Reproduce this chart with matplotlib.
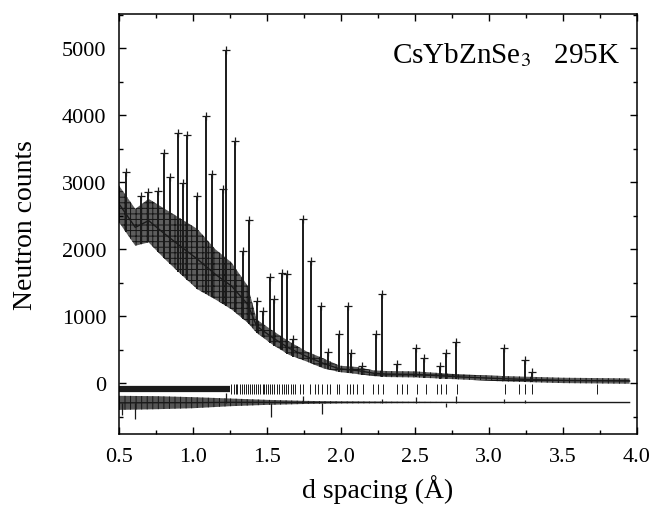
import numpy as np
import matplotlib.pyplot as plt
from matplotlib.ticker import MultipleLocator

plt.rcParams['font.family'] = ['Liberation Serif', 'DejaVu Serif']
plt.rcParams['mathtext.fontset'] = 'stix'
plt.rcParams['hatch.linewidth'] = 0.7

bg_d = [0.50, 0.61, 0.70, 0.81, 0.92, 1.03, 1.15, 1.26, 1.37, 1.43, 1.54, 1.65,
        1.77, 1.88, 1.99, 2.11, 2.22, 2.31, 2.50, 2.80, 3.10, 3.50, 3.95]
bg_low = [2400, 2050, 2100, 1850, 1620, 1400, 1250, 1100, 900, 750, 570, 420,
          320, 220, 165, 135, 105, 90, 85, 55, 25, 0, -10]
bg_high = [2950, 2600, 2750, 2600, 2450, 2300, 2000, 1800, 1450, 950, 780, 620,
           470, 370, 260, 240, 190, 180, 175, 130, 105, 80, 70]

# Bragg peaks: position (Angstrom) and top (counts)
peak_d = [0.547, 0.649, 0.698, 0.766, 0.804, 0.845, 0.900, 0.934, 0.957, 1.030,
          1.086, 1.126, 1.205, 1.222, 1.284, 1.336, 1.378, 1.430, 1.470, 1.520,
          1.550, 1.600, 1.637, 1.678, 1.741, 1.800, 1.865, 1.910, 1.986, 2.045,
          2.070, 2.140, 2.234, 2.279, 2.376, 2.510, 2.563, 2.669, 2.707, 2.780,
          3.100, 3.240, 3.290]
peak_top = [3150, 2800, 2850, 2870, 3440, 3070, 3740, 2990, 3700, 2800,
            3990, 3120, 2900, 4975, 3620, 1975, 2430, 1230, 1080, 1580,
            1250, 1650, 1630, 660, 2450, 1830, 1150, 460, 730, 1150,
            450, 260, 730, 1330, 280, 517, 368, 250, 447, 617,
            517, 348, 170]

# reflection markers
refl_band = [0.50, 1.25]
refl_d = [1.260, 1.275, 1.290, 1.300, 1.315, 1.330, 1.345, 1.360, 1.370, 1.385,
          1.400, 1.410, 1.425, 1.440, 1.455, 1.470, 1.480, 1.495, 1.510, 1.520,
          1.535, 1.550, 1.565, 1.580, 1.600, 1.615, 1.630, 1.645, 1.660, 1.675,
          1.689, 1.723, 1.745, 1.790, 1.824, 1.847, 1.869, 1.903, 1.926, 1.970,
          1.989, 2.038, 2.060, 2.083, 2.106, 2.150, 2.218, 2.252, 2.286, 2.380,
          2.412, 2.448, 2.516, 2.571, 2.651, 2.676, 2.711, 2.786, 3.108, 3.205,
          3.245, 3.289, 3.732]

# difference curve (obs - calc), drawn offset
diff_d = [0.50, 0.75, 1.00, 1.25, 1.50, 1.75, 2.00, 2.50, 3.00, 3.95]
diff_low = [-400, -390, -375, -345, -325, -312, -303, -298, -296, -294]
diff_high = [-190, -195, -210, -230, -250, -265, -274, -280, -283, -286]
spike_d = [0.52, 0.61, 1.225, 1.53, 1.74, 1.87, 2.28, 2.51, 2.707, 2.78, 3.10, 3.24]
spike_val = [-470, -540, -150, -510, -200, -460, -230, -215, -360, -190, -240, -250]

fig = plt.figure(figsize=(6.55, 5.06), dpi=100)
ax = fig.add_axes([0.1817, 0.1403, 0.7908, 0.8301])

ink = '#1a1a1a'

# observed band, cross hatch to mimic the '+' symbols
ax.fill_between(bg_d, bg_low, bg_high, facecolor='#5e5e5e', edgecolor='#151515',
                hatch='+++', lw=0)
ax.plot(bg_d, [(a + b) / 2 for a, b in zip(bg_low, bg_high)], color=ink, lw=1.0)

# peaks
base = np.interp(peak_d, bg_d, bg_low)
ax.vlines(peak_d, base, peak_top, color=ink, lw=1.4)
ax.plot(peak_d, peak_top, '+', color=ink, ms=6, mew=0.9)

# reflection ticks
ax.hlines(-85, refl_band[0], refl_band[1], color=ink, lw=4.5)
ax.plot(refl_d, [-90] * len(refl_d), '|', color=ink, ms=7, mew=0.7)

# difference
ax.fill_between(diff_d, diff_low, diff_high, facecolor='#555555', edgecolor='#151515',
                hatch='|||', lw=0)
ax.plot(diff_d, [(a + b) / 2 for a, b in zip(diff_low, diff_high)], color=ink, lw=1.0)
ax.vlines(spike_d, -290, spike_val, color=ink, lw=0.9)

ax.set_xlim(0.5, 4.0)
ax.set_ylim(-760, 5510)
ax.xaxis.set_major_locator(MultipleLocator(0.5))
ax.xaxis.set_minor_locator(MultipleLocator(0.25))
ax.yaxis.set_minor_locator(MultipleLocator(500))
ax.set_yticks(np.arange(0, 5001, 1000))
ax.xaxis.set_major_formatter(plt.FormatStrFormatter('%.1f'))
ax.tick_params(which='both', direction='in', top=True, right=True, labelsize=16, pad=9)
ax.tick_params(which='major', length=5, width=1)
ax.tick_params(which='minor', length=3, width=1)
for s in ax.spines.values():
    s.set_linewidth(1.1)

ax.set_xlabel('d spacing (Å)', fontsize=20, labelpad=6)
ax.set_ylabel('Neutron counts', fontsize=20, labelpad=17)

ax.text(0.967, 0.886, 'CsYbZnSe$_3$   295K', transform=ax.transAxes,
        ha='right', va='baseline', fontsize=21)

fig.savefig('out.png', dpi=100)
